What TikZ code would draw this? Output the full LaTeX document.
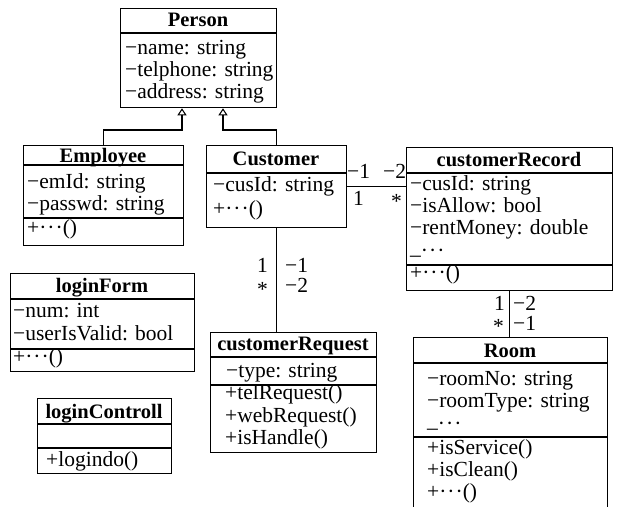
\documentclass[tikz,border=0pt]{standalone}
\usepackage{fontspec}
\setmainfont{Liberation Serif}
\usetikzlibrary{arrows.meta,calc}

% class box, title and member text styles
\tikzset{
  cls/.style={draw, line width=1.3pt, inner sep=0pt, anchor=north west},
  sepline/.style={line width=1.3pt},
  ttl/.style={anchor=base, inner sep=0pt, text height=14pt, text depth=4pt,
    font=\fontsize{20.5}{22}\selectfont\bfseries},
  mem/.style={anchor=base west, inner sep=0pt, text height=14pt, text depth=4pt,
    font=\fontsize{21.5}{22}\selectfont},
  mult/.style={anchor=base west, inner sep=0pt, text height=14pt, text depth=3pt,
    font=\fontsize{21.5}{22}\selectfont},
  link/.style={line width=1.3pt},
  inherit/.style={line width=1.3pt, -{Triangle[open, width=9pt, length=7pt, line width=1pt]}}
}
% \umlbox{name}{x1}{y1}{x2}{y2}
\newcommand\umlbox[5]{\node[cls, minimum width=#4-#2, minimum height=#5-#3] (#1) at (#2,#3) {};}
\newcommand\mdots{·\kern1pt·\kern1pt·}
\newcommand\lowdots{\raisebox{3pt}[\height][0pt]{\_}\mdots}

\begin{document}
\begin{tikzpicture}[x=1pt, y=-1pt]
\useasboundingbox (0,0) rectangle (618,506);
\clip (0,0) rectangle (618,506);

% Person
\umlbox{person}{120}{8}{276}{107}
\draw[sepline] (120,33) -- (276,33);
\node[ttl] (personT) at (198,27) {Person};
\node[mem] (p1) at (125,54) {−name: string};
\node[mem] (p2) at (125,76) {−telphone: string};
\node[mem] (p3) at (125,98) {−address: string};

% Employee
\umlbox{emp}{23}{145}{183}{245}
\draw[sepline] (23,165) -- (183,165);
\draw[sepline] (23,218) -- (183,218);
\node[ttl] (empT) at (103,162) {Employee};
\node[mem] (e1) at (27,188) {−emId: string};
\node[mem] (e2) at (27,210) {−passwd: string};
\node[mem] (e3) at (27,234) {+\mdots()};

% Customer
\umlbox{cus}{206}{145}{346}{227}
\draw[sepline] (206,173) -- (346,173);
\node[ttl] (cusT) at (276,165) {Customer};
\node[mem] (c1) at (213,191) {−cusId: string};
\node[mem] (c2) at (213,215) {+\mdots()};

% customerRecord
\umlbox{rec}{406}{147}{612}{290}
\draw[sepline] (406,173) -- (612,173);
\draw[sepline] (406,265) -- (612,265);
\node[ttl] (recT) at (509,166) {customerRecord};
\node[mem] (r1) at (410,190) {−cusId: string};
\node[mem] (r2) at (410,212) {−isAllow: bool};
\node[mem] (r3) at (410,234) {−rentMoney: double};
\node[mem] (r4) at (410,257) {\lowdots};
\node[mem] (r5) at (410,279) {+\mdots()};

% loginForm
\umlbox{lform}{10}{273}{194}{371}
\draw[sepline] (10,299) -- (194,299);
\draw[sepline] (10,349) -- (194,349);
\node[ttl] (lformT) at (102,292) {loginForm};
\node[mem] (l1) at (13,317) {−num: int};
\node[mem] (l2) at (13,340) {−userIsValid: bool};
\node[mem] (l3) at (13,363) {+\mdots()};

% loginControll
\umlbox{lctrl}{37}{398}{171}{473}
\draw[sepline] (37,424) -- (171,424);
\draw[sepline] (37,448) -- (171,448);
\node[ttl] (lctrlT) at (104,418) {loginControll};
\node[mem] (k1) at (46,466) {+logindo()};

% customerRequest
\umlbox{req}{210}{332}{376}{452}
\draw[sepline] (210,357) -- (376,357);
\draw[sepline] (210,385) -- (376,385);
\node[ttl] (reqT) at (293,350) {customerRequest};
\node[mem] (q1) at (226,377) {−type: string};
\node[mem] (q2) at (225,399) {+telRequest()};
\node[mem] (q3) at (225,422) {+webRequest()};
\node[mem] (q4) at (225,444) {+isHandle()};

% Room (runs past the lower edge)
\umlbox{room}{413}{337}{607}{530}
\draw[sepline] (413,363) -- (607,363);
\draw[sepline] (413,437) -- (607,437);
\node[ttl] (roomT) at (510,357) {Room};
\node[mem] (o1) at (427,385) {−roomNo: string};
\node[mem] (o2) at (427,407) {−roomType: string};
\node[mem] (o3) at (427,430) {\lowdots};
\node[mem] (o4) at (427,454) {+isService()};
\node[mem] (o5) at (427,476) {+isClean()};
\node[mem] (o6) at (427,498) {+\mdots()};

% generalisation
\draw[inherit] (emp.north) -- ++(0,-15) -| ($(person.south west)+(62,0)$);
\draw[inherit] (cus.north) -- ++(0,-15) -| ($(person.south west)+(103,0)$);

% associations
\draw[link] (cus.east) -- (cus.east -| rec.west);
\draw[link] (cus.south) -- (cus.south |- req.north);
\draw[link] (rec.south) -- (rec.south |- room.north);

% multiplicities
\node[mult] (m1) at (347,178) {−1};
\node[mult] (m2) at (383,178) {−2};
\node[mult] (m3) at (353,205) {1};
\node[mult] (m4) at (391,208) {*};

\node[mult] (m5) at (257,272) {1};
\node[mult] (m6) at (257,296) {*};
\node[mult] (m7) at (285,272) {−1};
\node[mult] (m8) at (285,292) {−2};

\node[mult] (m9) at (494,310) {1};
\node[mult] (m10) at (493,333) {*};
\node[mult] (m11) at (513,310) {−2};
\node[mult] (m12) at (513,330) {−1};
\end{tikzpicture}
\end{document}
